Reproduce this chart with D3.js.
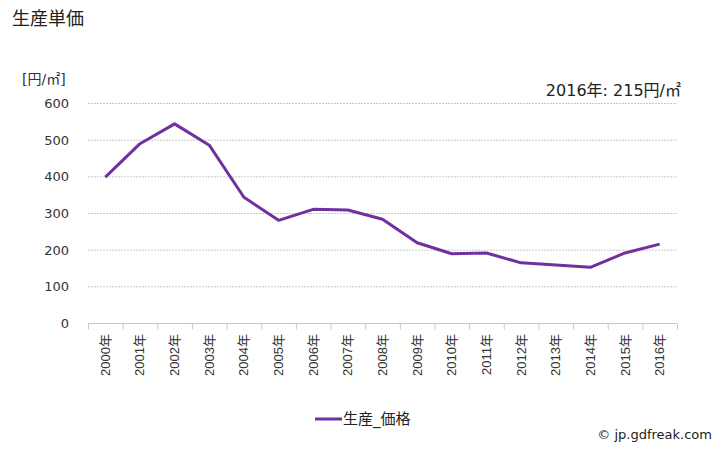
<!DOCTYPE html>
<html><head><meta charset="utf-8">
<script src="https://cdn.jsdelivr.net/npm/d3@7"></script>
<style>body{margin:0;background:#fff}svg{font-family:"DejaVu Sans","Noto Sans CJK JP",sans-serif}</style>
</head><body>
<script>
const years = ["2000年","2001年","2002年","2003年","2004年","2005年","2006年","2007年","2008年","2009年","2010年","2011年","2012年","2013年","2014年","2015年","2016年"];
const values = [398,489,543,485,343,280,310,308,283,219,189,191,164,158,152,191,215];
const yTicks = [0,100,200,300,400,500,600];

const W=728,H=450;
const m={l:88,r:677,t:103,b:323};
const svg=d3.select("body").append("svg").attr("width",W).attr("height",H);
const x=d3.scaleBand().domain(years).range([m.l,m.r]);
const y=d3.scaleLinear().domain([0,600]).range([m.b,m.t]);

svg.append("g").selectAll("line").data(yTicks.filter(d=>d>0)).join("line")
  .attr("x1",m.l).attr("x2",m.r).attr("y1",d=>y(d)+0.5).attr("y2",d=>y(d)+0.5)
  .attr("stroke","#c8c8c8").attr("stroke-dasharray","2,1");

svg.append("g").selectAll("text").data(yTicks).join("text")
  .attr("x",69).attr("y",d=>y(d)+5).attr("text-anchor","end")
  .attr("font-size",13).attr("fill","#333").text(d=>d);

const xa=svg.append("g").attr("transform",`translate(0,${m.b+0.5})`)
  .call(d3.axisBottom(x).tickSize(6).tickFormat(""));
xa.select(".domain").attr("stroke","#c8c8c8").attr("d",`M${m.l},0H${m.r}`);
xa.selectAll(".tick").remove();
const edges=years.map(d=>x(d)).concat([m.r]);
xa.selectAll("line.t").data(edges).join("line").attr("class","t")
  .attr("x1",d=>d+0.5).attr("x2",d=>d+0.5).attr("y1",0).attr("y2",6).attr("stroke","#c8c8c8");

svg.append("g").selectAll("text").data(years).join("text")
  .attr("transform",d=>`translate(${x(d)+x.bandwidth()/2+4.5},334) rotate(-90)`)
  .attr("text-anchor","end").attr("font-size",13).attr("fill","#333")
  .attr("font-family","'Liberation Sans','Noto Sans CJK JP',sans-serif").text(d=>d);

const line=d3.line().x((d,i)=>x(years[i])+x.bandwidth()/2).y(d=>y(d));
svg.append("path").datum(values).attr("d",line).attr("fill","none")
  .attr("stroke","#7030a0").attr("stroke-width",3).attr("stroke-linejoin","round");

svg.append("text").attr("x",12).attr("y",25).attr("font-size",18).attr("fill","#222").text("生産単価");
svg.append("text").attr("x",22).attr("y",84).attr("font-size",14).attr("fill","#333").text("[円/㎡]");
svg.append("text").attr("x",681).attr("y",96).attr("text-anchor","end").attr("font-size",16).attr("fill","#222")
  .text(years[years.length-1]+": "+values[values.length-1]+"円/㎡");

svg.append("line").attr("x1",315).attr("x2",342).attr("y1",419).attr("y2",419).attr("stroke","#7030a0").attr("stroke-width",3);
svg.append("text").attr("x",343).attr("y",424).attr("font-size",15).attr("fill","#222").text("生産_価格");
svg.append("text").attr("x",712).attr("y",439).attr("text-anchor","end").attr("font-size",13).attr("fill","#222").text("© jp.gdfreak.com");
</script>
</body></html>
